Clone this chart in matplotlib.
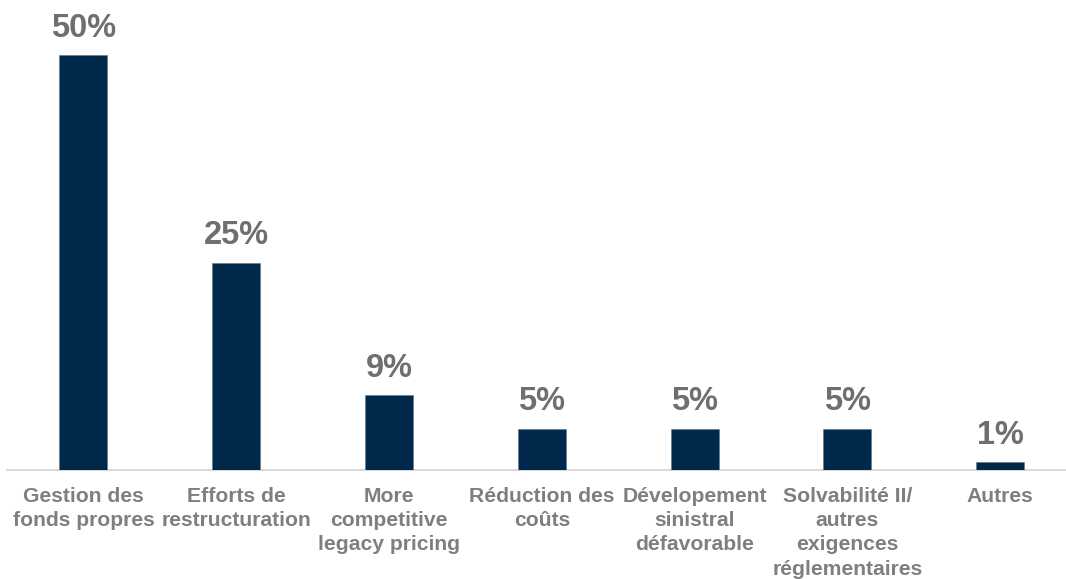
import matplotlib
matplotlib.use('Agg')
import matplotlib.pyplot as plt
import numpy as np

plt.rcParams['font.family'] = ['Liberation Sans', 'DejaVu Sans']

categories = ['Gestion des\nfonds propres', 'Efforts de\nrestructuration',
              'More\ncompetitive\nlegacy pricing', 'Réduction des\ncoûts',
              'Dévelopement\nsinistral\ndéfavorable',
              'Solvabilité II/\nautres\nexigences\nréglementaires', 'Autres']
values = [50, 25, 9, 5, 5, 5, 1]

bar_color = '#00284a'
text_gray = '#7f7f7f'
label_gray = '#6f6f6f'

fig = plt.figure(figsize=(10.66, 5.79), dpi=100)
ax = fig.add_axes([7/1066, 109/579, 1059/1066, 470/579])

x = np.arange(len(categories))
bars = ax.bar(x, values, width=0.314, color=bar_color, edgecolor='#5a7590', linewidth=0.4, zorder=3)

for xi, v in zip(x, values):
    ax.annotate(f'{v}%', (xi, v), xytext=(0, 13), textcoords='offset points',
                ha='center', va='baseline', fontsize=23.5, fontweight='bold', color=label_gray)

ax.set_xlim(-0.5, -0.5 + 1059/152.8)
ax.set_ylim(0, 470/8.3)

for s in ['top', 'right', 'left']:
    ax.spines[s].set_visible(False)
ax.spines['bottom'].set_color('#d9d9d9')
ax.spines['bottom'].set_linewidth(1.5)
ax.set_yticks([])
ax.set_xticks(x)
ax.set_xticklabels(categories, fontsize=15.2, fontweight='bold', color=text_gray, linespacing=1.36)
ax.tick_params(axis='x', length=0, pad=12)

fig.savefig('out.png', dpi=100)
